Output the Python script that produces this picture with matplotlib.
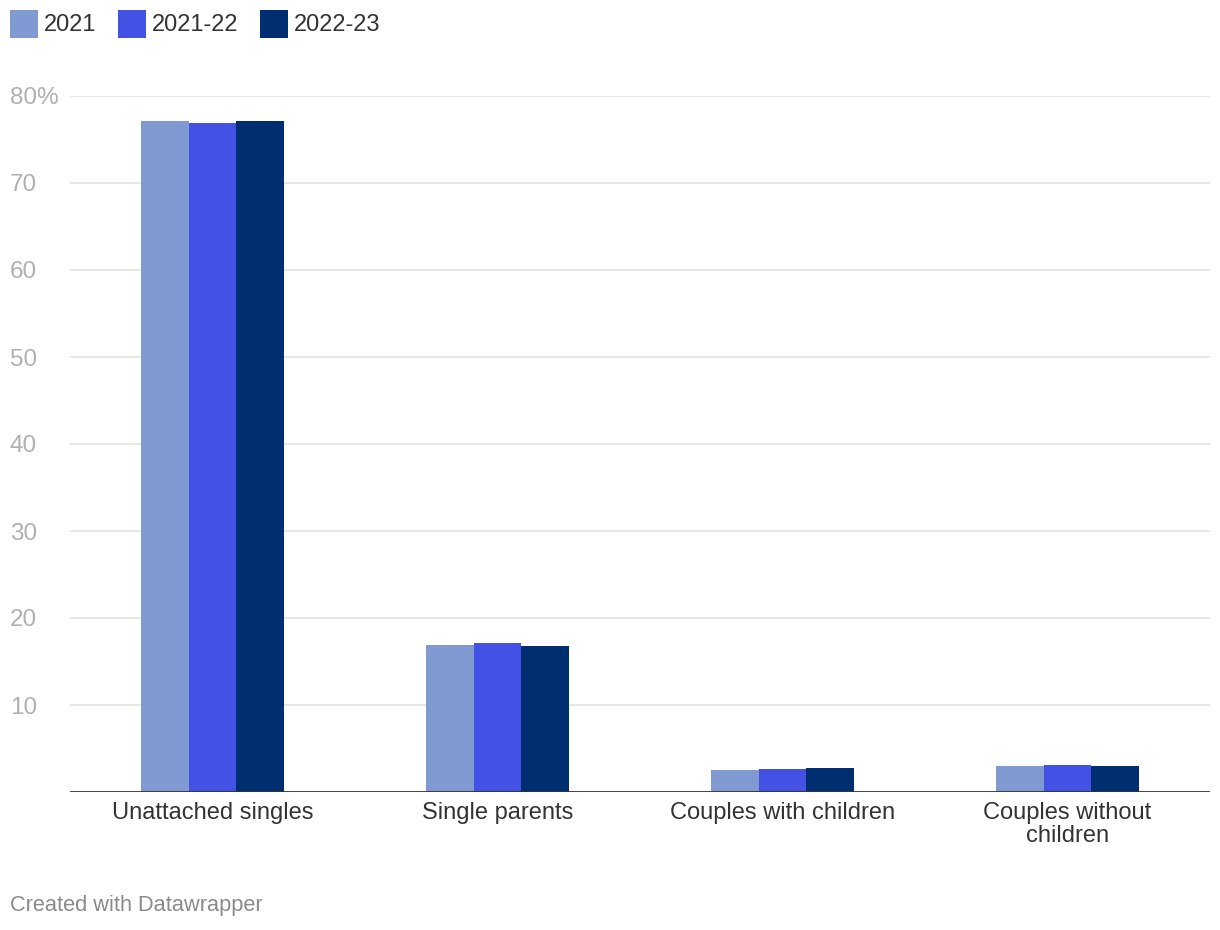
import matplotlib
matplotlib.use("Agg")
import matplotlib.pyplot as plt
import numpy as np
from matplotlib.patches import Rectangle

plt.rcParams['font.family'] = ['Liberation Sans', 'DejaVu Sans']

categories = ["Unattached singles", "Single parents", "Couples with children", "Couples without\nchildren"]
series_names = ["2021", "2021-22", "2022-23"]
v2021 = [77.1, 16.9, 2.5, 3.0]
v2122 = [76.9, 17.1, 2.6, 3.1]
v2223 = [77.1, 16.8, 2.8, 3.0]
colors = ["#8099d0", "#4351e4", "#012d71"]
yticks = [10, 20, 30, 40, 50, 60, 70, 80]
ytick_labels = ["10", "20", "30", "40", "50", "60", "70", "80%"]

W, H = 1220, 930
fig = plt.figure(figsize=(W / 100, H / 100), dpi=100)
ax = fig.add_axes([70 / W, 1 - 792 / H, 1140 / W, (792 - 96) / H])

x = np.arange(len(categories))
bw = 0.1667
for i, (vals, c) in enumerate(zip([v2021, v2122, v2223], colors)):
    ax.bar(x + (i - 1) * bw, vals, width=bw, color=c, zorder=3, linewidth=0)

ax.set_xlim(-0.5, len(categories) - 0.5)
ax.set_ylim(0, 80)
ax.set_yticks(yticks)
ax.set_yticklabels([])
for t in yticks:
    ax.axhline(t, color="#e2e2e2", linewidth=1.2, zorder=1)
ax.axhline(0, color="#333333", linewidth=2, zorder=4)
for s in ax.spines.values():
    s.set_visible(False)
ax.tick_params(left=False, bottom=False)
ax.set_xticks(x)
ax.set_xticklabels(categories, fontsize=17, color="#333333", linespacing=1.1)
ax.tick_params(axis='x', pad=3.5)

# y labels left-aligned at figure x=10
for t, lab in zip(yticks, ytick_labels):
    ypix = ax.transData.transform((0, t))[1] - 2.5
    fig.text(10 / W, ypix / H, lab, ha="left", va="center", fontsize=17.5, color="#b0b0b0")

# legend
lx = [10, 118, 260]
for xx, name, c in zip(lx, series_names, colors):
    fig.patches.append(Rectangle((xx / W, 1 - 38 / H), 28 / W, 28 / H, transform=fig.transFigure,
                                 facecolor=c, edgecolor="none"))
    fig.text((xx + 34) / W, 1 - 25 / H, name, ha="left", va="center", fontsize=17, color="#333333")

fig.text(10 / W, 1 - 905 / H, "Created with Datawrapper", ha="left", va="center", fontsize=15.7, color="#8a8a8a")

fig.savefig("out.png", dpi=100, facecolor="white")
